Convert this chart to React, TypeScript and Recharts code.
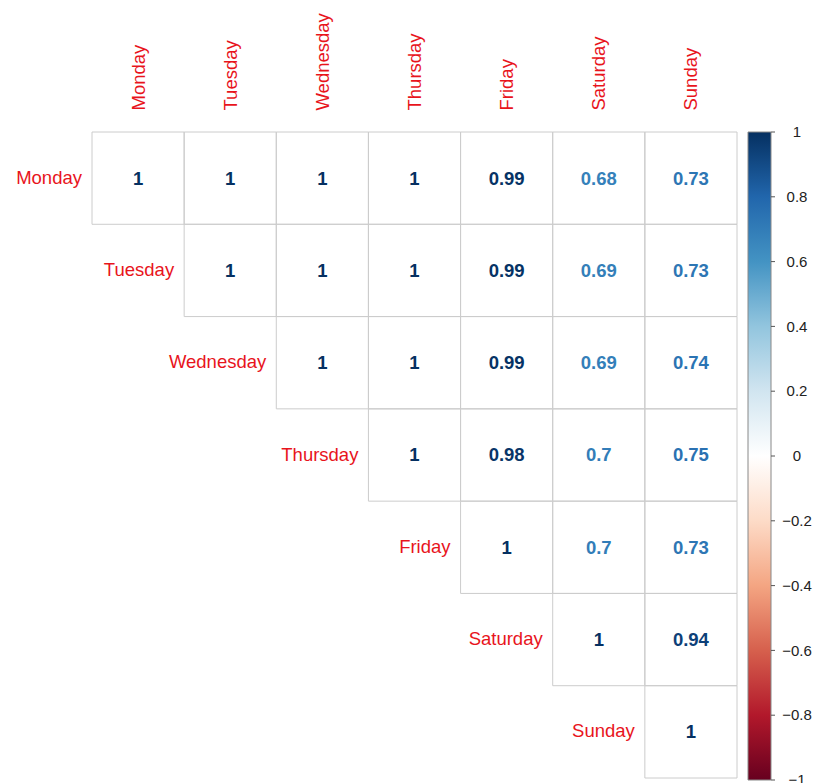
import React from 'react';
import {
  ScatterChart,
  Scatter,
  XAxis,
  YAxis,
  ReferenceArea,
  BarChart,
  Bar,
} from 'recharts';

// Weekday names used for both the column and row headers
const days = ['Monday', 'Tuesday', 'Wednesday', 'Thursday', 'Friday', 'Saturday', 'Sunday'];

// Upper triangle of the correlation matrix: row i starts at column i
const mondayRow = [1, 1, 1, 1, 0.99, 0.68, 0.73];
const tuesdayRow = [1, 1, 1, 0.99, 0.69, 0.73];
const wednesdayRow = [1, 1, 0.99, 0.69, 0.74];
const thursdayRow = [1, 0.98, 0.7, 0.75];
const fridayRow = [1, 0.7, 0.73];
const saturdayRow = [1, 0.94];
const sundayRow = [1];
const corrRows = [mondayRow, tuesdayRow, wednesdayRow, thursdayRow, fridayRow, saturdayRow, sundayRow];

// Colour legend ticks
const legendTicks = [-1, -0.8, -0.6, -0.4, -0.2, 0, 0.2, 0.4, 0.6, 0.8, 1];

// RdBu diverging palette, from -1 to 1 in steps of 0.2
const rdbu = ['#67001F', '#B2182B', '#D6604D', '#F4A582', '#FDDBC7', '#FFFFFF', '#D1E5F0', '#92C5DE', '#4393C3', '#2166AC', '#053061'];

const hexToRgb = (h: string) => [1, 3, 5].map((k) => parseInt(h.slice(k, k + 2), 16));
const colorFor = (v: number) => {
  const t = ((v + 1) / 2) * (rdbu.length - 1);
  const i = Math.min(Math.floor(t), rdbu.length - 2);
  const f = t - i;
  const a = hexToRgb(rdbu[i]);
  const b = hexToRgb(rdbu[i + 1]);
  const c = a.map((x, k) => Math.round(x + (b[k] - x) * f));
  return `rgb(${c[0]},${c[1]},${c[2]})`;
};

const FONT = '"Liberation Sans", Arial, Helvetica, sans-serif';
const LABEL_RED = '#e8141c';
const GRID = '#cccccc';

const cellPoints = corrRows.flatMap((row, i) =>
  row.map((v, k) => ({ x: i + k + 0.5, y: i + 0.5, v }))
);
const rowLabelPoints = days.map((name, i) => ({ x: i, y: i + 0.5, name }));

const TopTick = (props: any) => {
  const { x, payload } = props;
  const name = days[Math.floor(payload.value)];
  const y = 110.5;
  return (
    <text
      x={x}
      y={y}
      transform={`rotate(-90, ${x}, ${y})`}
      dy="0.35em"
      textAnchor="start"
      fill={LABEL_RED}
      fontFamily={FONT}
      fontSize={18.5}
    >
      {name}
    </text>
  );
};

const ValueShape = (props: any) => {
  const { cx, cy, payload } = props;
  return (
    <text
      x={cx}
      y={cy}
      dy="0.35em"
      textAnchor="middle"
      fill={colorFor(payload.v)}
      fontFamily={FONT}
      fontWeight="bold"
      fontSize={18.5}
    >
      {String(payload.v)}
    </text>
  );
};

const RowLabelShape = (props: any) => {
  const { cx, cy, payload } = props;
  return (
    <text
      x={cx - 10}
      y={cy}
      dy="0.3em"
      textAnchor="end"
      fill={LABEL_RED}
      fontFamily={FONT}
      fontSize={18.5}
    >
      {payload.name}
    </text>
  );
};

const LegendTick = (props: any) => {
  const { x, y, payload } = props;
  const v = payload.value as number;
  const label = v < 0 ? `\u2212${String(-v)}` : String(v);
  return (
    <text
      x={x + 20}
      y={y}
      dy="0.35em"
      textAnchor="middle"
      fill="#222"
      fontFamily={FONT}
      fontSize={15}
    >
      {label}
    </text>
  );
};

const legendData = [{ name: 'scale', range: [-1, 1] }];

export default function App() {
  return (
    <div style={{ position: 'absolute', left: 0, top: 0, width: 813, height: 783, background: '#fff' }}>
      <div style={{ position: 'absolute', left: 0, top: 0 }}>
        <ScatterChart width={813} height={783} margin={{ top: 0, right: 76, bottom: 5, left: 92 }}>
          <XAxis
            type="number"
            dataKey="x"
            orientation="top"
            domain={[0, 7]}
            ticks={[0.5, 1.5, 2.5, 3.5, 4.5, 5.5, 6.5]}
            height={132}
            axisLine={false}
            tickLine={false}
            tick={<TopTick />}
            interval={0}
          />
          <YAxis type="number" dataKey="y" domain={[0, 7]} reversed hide />
          {corrRows.flatMap((row, i) =>
            row.map((_, k) => (
              <ReferenceArea
                key={`c-${i}-${k}`}
                x1={i + k}
                x2={i + k + 1}
                y1={i}
                y2={i + 1}
                fill="none"
                stroke={GRID}
                strokeWidth={1}
                fillOpacity={0}
                strokeOpacity={1}
              />
            ))
          )}
          <Scatter data={cellPoints} shape={<ValueShape />} isAnimationActive={false} />
          <Scatter data={rowLabelPoints} shape={<RowLabelShape />} isAnimationActive={false} />
        </ScatterChart>
      </div>
      <div style={{ position: 'absolute', left: 740, top: 0 }}>
        <BarChart
          width={73}
          height={783}
          data={legendData}
          margin={{ top: 132, right: 0, bottom: 3, left: 8 }}
          barCategoryGap={0}
        >
          <defs>
            <linearGradient id="corrScale" x1="0" y1="0" x2="0" y2="1">
              {rdbu
                .slice()
                .reverse()
                .map((c, k) => (
                  <stop key={c} offset={`${(k / (rdbu.length - 1)) * 100}%`} stopColor={c} />
                ))}
            </linearGradient>
          </defs>
          <XAxis dataKey="name" type="category" hide />
          <YAxis
            type="number"
            orientation="right"
            domain={[-1, 1]}
            ticks={legendTicks}
            width={42}
            axisLine={false}
            tickLine={{ stroke: '#555' }}
            tickSize={4}
            tick={<LegendTick />}
            interval={0}
          />
          <Bar dataKey="range" fill="url(#corrScale)" stroke="#888" strokeWidth={1} isAnimationActive={false} />
        </BarChart>
      </div>
    </div>
  );
}
